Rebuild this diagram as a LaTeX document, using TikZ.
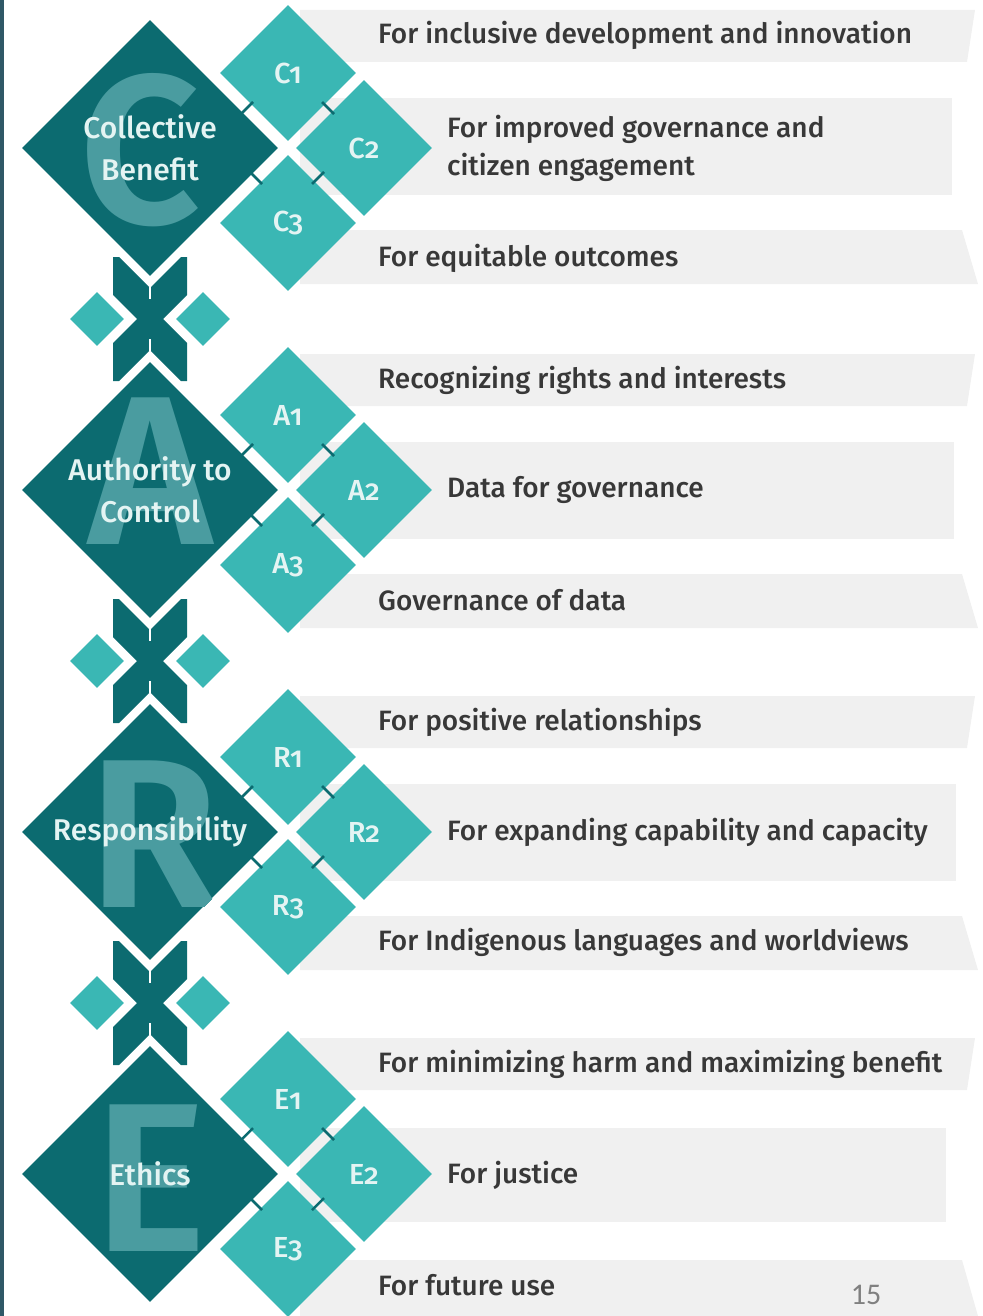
\documentclass[tikz,border=0pt]{standalone}
\usepackage{fontspec}
\setmainfont{Fira Sans}[UprightFont=* Medium]
\newfontfamily\numfont{Fira Sans}[UprightFont=* Medium,Numbers=OldStyle]
\newfontfamily\letterfont{Fira Sans}[UprightFont=* SemiBold]
\newfontfamily\pagefont{Carlito}
\usetikzlibrary{shapes.geometric,positioning}
\definecolor{caredark}{HTML}{0C6B70}
\definecolor{careteal}{HTML}{3AB7B4}
\definecolor{carewater}{HTML}{4A9CA0}
\definecolor{carebanner}{HTML}{F0F0F0}
\definecolor{caretext}{HTML}{383838}
\definecolor{carelight}{HTML}{E4F4F3}
\definecolor{carestrip}{HTML}{2F5867}
\tikzset{
    bigdia/.style={
           diamond,
           aspect=1,
           inner sep=0pt,
           minimum size=256pt,
           fill=caredark,
           },
    bigletter/.style={
           inner sep=0pt,
           text=carewater,
           font=\letterfont\fontsize{212}{212}\selectfont,
           },
    bigtext/.style={
           inner sep=0pt,
           align=center,
           text=carelight,
           font=\fontsize{30}{42}\selectfont,
           },
    smalldia/.style={
           diamond,
           aspect=1,
           inner sep=0pt,
           minimum size=136pt,
           fill=careteal,
           text=carelight,
           font=\numfont\fontsize{29}{29}\selectfont,
           },
    joindia/.style={
           diamond,
           aspect=1,
           inner sep=0pt,
           minimum size=54pt,
           fill=careteal,
           },
    itemtext/.style={
           anchor=west,
           inner sep=0pt,
           align=left,
           text=caretext,
           font=\fontsize{28}{38}\selectfont,
           },
    banner/.style={fill=carebanner},
    tick/.style={draw=caredark,line width=2.5pt},
    crossjoin/.pic={
           \fill[caredark] (-37,-62) -- (-31,-62) -- (0,-31) -- (31,-62) -- (37,-62)
                 -- (37,-24) -- (13,0) -- (37,24) -- (37,62) -- (31,62) -- (0,31)
                 -- (-31,62) -- (-37,62) -- (-37,24) -- (-13,0) -- (-37,-24) -- cycle;
           \draw[white,line width=2pt] (0,-32) -- (0,-20) (0,20) -- (0,32);
           \node[joindia] (-left) at (-53,0) {};
           \node[joindia] (-right) at (53,0) {};
           },
}

\begin{document}
\begin{tikzpicture}[x=1pt,y=-1pt]
\useasboundingbox (0,0) rectangle (982,1316);
\fill[carestrip] (0,0) rectangle (4,1316);

% Collective Benefit
\begin{scope}[yshift=-148pt]
\fill[banner] (300,-138) -- (975,-138) -- (967,-86) -- (300,-86) -- cycle;
\fill[banner] (300,-50) rectangle (952,47);
\fill[banner] (300,82) -- (962,82) -- (978,136) -- (300,136) -- cycle;
\node[bigdia] (cbig) at (150,0) {};
\begin{scope}
  \clip (cbig.west) -- (cbig.north) -- (cbig.east) -- (cbig.south) -- cycle;
  \node[bigletter] (cletter) at (140,2) {C};
\end{scope}
\node[bigtext] (ctext) at (cbig) {Collective\\Benefit};
\node[smalldia] (cone) at (288,-75) {C1};
\node[smalldia] (ctwo) at (364,0) {C2};
\node[smalldia] (cthree) at (288,75) {C3};
\draw[tick] (247,-40) ++(-6,6) -- ++(12,-12);
\draw[tick] (328,-40) ++(-6,-6) -- ++(12,12);
\draw[tick] (256,30) ++(-6,-6) -- ++(12,12);
\draw[tick] (318,30) ++(-6,6) -- ++(12,-12);
\node[itemtext] (conetext) at (378,-113) {For inclusive development and innovation};
\node[itemtext] (ctwotext) at (447,0) {For improved governance and\\citizen engagement};
\node[itemtext] (cthreetext) at (378,110) {For equitable outcomes};
\end{scope}

\pic (ca) at (150,319) {crossjoin};

% Authority to Control
\begin{scope}[yshift=-490pt]
\fill[banner] (300,-136) -- (975,-136) -- (967,-84) -- (300,-84) -- cycle;
\fill[banner] (300,-48) rectangle (954,49);
\fill[banner] (300,84) -- (962,84) -- (978,138) -- (300,138) -- cycle;
\node[bigdia] (abig) at (150,0) {};
\begin{scope}
  \clip (abig.west) -- (abig.north) -- (abig.east) -- (abig.south) -- cycle;
  \node[bigletter] (aletter) at (151,-19) {A};
\end{scope}
\node[bigtext] (atext) at (abig) {Authority to\\Control};
\node[smalldia] (aone) at (288,-75) {A1};
\node[smalldia] (atwo) at (364,0) {A2};
\node[smalldia] (athree) at (288,75) {A3};
\draw[tick] (247,-40) ++(-6,6) -- ++(12,-12);
\draw[tick] (328,-40) ++(-6,-6) -- ++(12,12);
\draw[tick] (256,30) ++(-6,-6) -- ++(12,12);
\draw[tick] (318,30) ++(-6,6) -- ++(12,-12);
\node[itemtext] (aonetext) at (378,-110) {Recognizing rights and interests};
\node[itemtext] (atwotext) at (447,0) {Data for governance};
\node[itemtext] (athreetext) at (378,110) {Governance of data};
\end{scope}

\pic (ar) at (150,661) {crossjoin};

% Responsibility
\begin{scope}[yshift=-832pt]
\fill[banner] (300,-136) -- (975,-136) -- (967,-84) -- (300,-84) -- cycle;
\fill[banner] (300,-48) rectangle (956,49);
\fill[banner] (300,84) -- (962,84) -- (978,138) -- (300,138) -- cycle;
\node[bigdia] (rbig) at (150,0) {};
\begin{scope}
  \clip (rbig.west) -- (rbig.north) -- (rbig.east) -- (rbig.south) -- cycle;
  \node[bigletter] (rletter) at (154,2) {R};
\end{scope}
\node[bigtext] (rtext) at (rbig) {Responsibility};
\node[smalldia] (rone) at (288,-75) {R1};
\node[smalldia] (rtwo) at (364,0) {R2};
\node[smalldia] (rthree) at (288,75) {R3};
\draw[tick] (247,-40) ++(-6,6) -- ++(12,-12);
\draw[tick] (328,-40) ++(-6,-6) -- ++(12,12);
\draw[tick] (256,30) ++(-6,-6) -- ++(12,12);
\draw[tick] (318,30) ++(-6,6) -- ++(12,-12);
\node[itemtext] (ronetext) at (378,-110) {For positive relationships};
\node[itemtext] (rtwotext) at (447,0) {For expanding capability and capacity};
\node[itemtext] (rthreetext) at (378,110) {For Indigenous languages and worldviews};
\end{scope}

\pic (re) at (150,1003) {crossjoin};

% Ethics
\begin{scope}[yshift=-1174pt]
\fill[banner] (300,-136) -- (975,-136) -- (967,-84) -- (300,-84) -- cycle;
\fill[banner] (300,-46) rectangle (946,48);
\fill[banner] (300,86) -- (962,86) -- (978,142) -- (300,142) -- cycle;
\node[bigdia] (ebig) at (150,0) {};
\begin{scope}
  \clip (ebig.west) -- (ebig.north) -- (ebig.east) -- (ebig.south) -- cycle;
  \node[bigletter] (eletter) at (150,4) {E};
\end{scope}
\node[bigtext] (etext) at (ebig) {Ethics};
\node[smalldia] (eone) at (288,-75) {E1};
\node[smalldia] (etwo) at (364,0) {E2};
\node[smalldia] (ethree) at (288,75) {E3};
\draw[tick] (247,-40) ++(-6,6) -- ++(12,-12);
\draw[tick] (328,-40) ++(-6,-6) -- ++(12,12);
\draw[tick] (256,30) ++(-6,-6) -- ++(12,12);
\draw[tick] (318,30) ++(-6,6) -- ++(12,-12);
\node[itemtext] (eonetext) at (378,-110) {For minimizing harm and maximizing benefit};
\node[itemtext] (etwotext) at (447,1) {For justice};
\node[itemtext] (ethreetext) at (378,111) {For future use};
\end{scope}

\node[text=gray,font=\pagefont\fontsize{30}{30}\selectfont] (pagenum) at (866,1295) {15};
\end{tikzpicture}
\end{document}
